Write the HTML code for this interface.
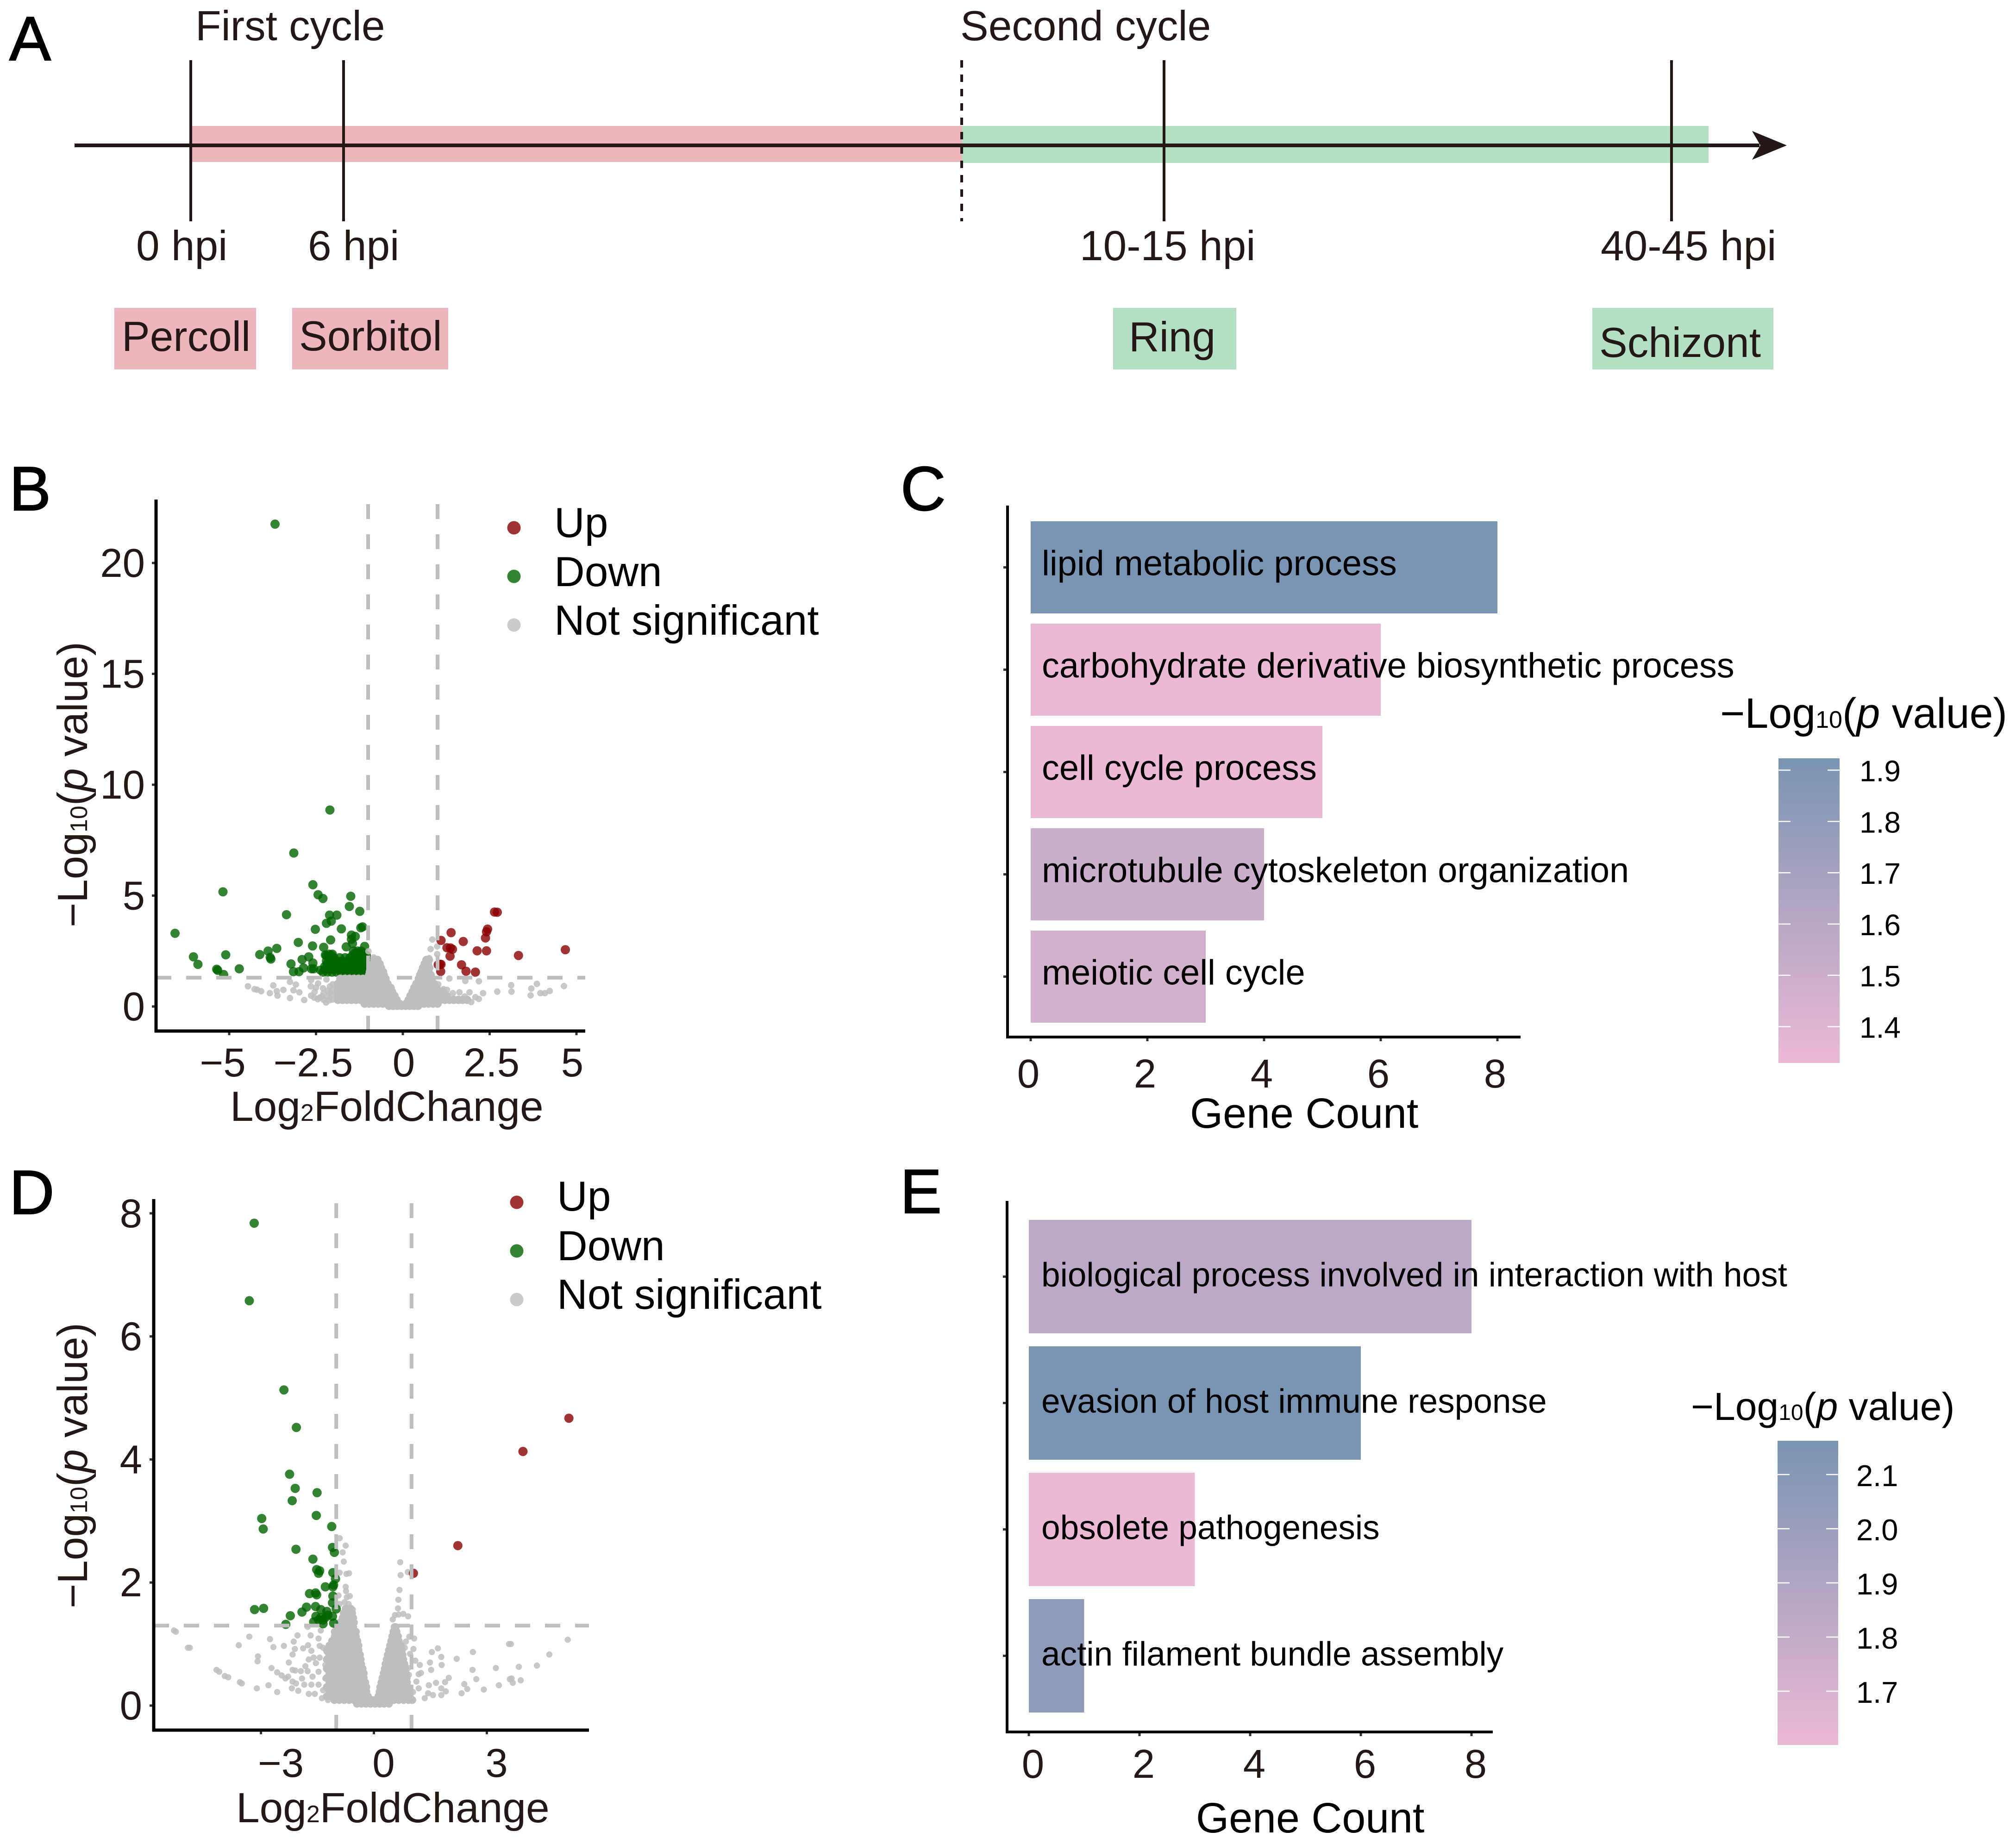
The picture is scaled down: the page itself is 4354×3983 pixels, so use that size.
<!DOCTYPE html>
<html lang="en">
<head>
<meta charset="utf-8">
<title>Timeline, volcano plots and GO enrichment bars</title>
<style>
html,body{margin:0;padding:0;background:#fff}
svg{display:block}
text{font-family:"Liberation Sans",Arial,sans-serif;fill:#231815}
.k{fill:#000}
.p{stroke:#000;stroke-width:2}
</style>
</head>
<body>
<svg id="fig" xmlns="http://www.w3.org/2000/svg" width="4354" height="3983" viewBox="0 0 4354 3983">
<defs>
<linearGradient id="cbGrad" x1="0" y1="0" x2="0" y2="1"><stop offset="0" stop-color="#7a94b3"/><stop offset="1" stop-color="#ecb9d5"/></linearGradient>
</defs>
<rect width="4354" height="3983" fill="#fff"/>

<!-- Panel A -->
<g>
<text class="k p" x="20" y="130" font-size="135">A</text>
<rect x="415" y="272" width="1663" height="78" fill="#edb6bd"/>
<rect x="2078" y="272" width="1612" height="80" fill="#b3dfc5"/>
<line x1="161" y1="314" x2="3800" y2="314" stroke="#231815" stroke-width="8"/>
<polygon points="3784,283 3859,314 3784,345 3802,314" fill="#231815"/>
<line x1="412" y1="130" x2="412" y2="478" stroke="#231815" stroke-width="6"/>
<line x1="742" y1="130" x2="742" y2="478" stroke="#231815" stroke-width="6"/>
<line x1="2077" y1="130" x2="2077" y2="478" stroke="#231815" stroke-width="6" stroke-dasharray="16 15"/>
<line x1="2514" y1="130" x2="2514" y2="478" stroke="#231815" stroke-width="6"/>
<line x1="3610" y1="130" x2="3610" y2="478" stroke="#231815" stroke-width="6"/>
<text x="422" y="87" font-size="91">First cycle</text>
<text x="2074" y="87" font-size="91">Second cycle</text>
<text x="294" y="562" font-size="91">0 hpi</text>
<text x="665" y="562" font-size="91">6 hpi</text>
<text x="2332" y="562" font-size="91">10-15 hpi</text>
<text x="3457" y="562" font-size="91">40-45 hpi</text>
<rect x="247" y="665" width="306" height="133" fill="#edb6bd"/>
<rect x="631" y="665" width="337" height="133" fill="#edb6bd"/>
<rect x="2404" y="665" width="266" height="133" fill="#b3dfc5"/>
<rect x="3439" y="665" width="391" height="133" fill="#b3dfc5"/>
<text x="263" y="758" font-size="91">Percoll</text>
<text x="646" y="757" font-size="91">Sorbitol</text>
<text x="2438" y="759" font-size="91">Ring</text>
<text x="3454" y="771" font-size="91">Schizont</text>
</g>

<!-- Panel letters -->
<text class="k p" x="20" y="1102" font-size="135">B</text>
<text class="k p" x="1945" y="1102" font-size="135">C</text>
<text class="k p" x="20" y="2622" font-size="135">D</text>
<text class="k p" x="1944" y="2620" font-size="135">E</text>

<!-- Panel B furniture -->
<g id="panelB"></g>
<line x1="337" y1="1079" x2="337" y2="2230" stroke="#000" stroke-width="7"/>
<line x1="334" y1="2227" x2="1264" y2="2227" stroke="#000" stroke-width="7"/>
<text x="497" y="2421" font-size="91">Log<tspan font-size="52">2</tspan>FoldChange</text>
<text transform="translate(188,2003) rotate(-90)" font-size="91">−Log<tspan font-size="52">10</tspan>(<tspan font-style="italic">p</tspan> value)</text>
<circle cx="1110" cy="1140" r="14.5" fill="#8b0000" fill-opacity=".8"/>
<circle cx="1110" cy="1245" r="14.5" fill="#006400" fill-opacity=".8"/>
<circle cx="1110" cy="1350" r="14.5" fill="#bebebe" fill-opacity=".8"/>
<text class="k" x="1197" y="1160" font-size="91">Up</text>
<text class="k" x="1197" y="1266" font-size="91">Down</text>
<text class="k" x="1197" y="1371" font-size="91">Not significant</text>

<!-- Panel D furniture -->
<g id="panelD"></g>
<line x1="332" y1="2590" x2="332" y2="3740" stroke="#000" stroke-width="7"/>
<line x1="329" y1="3737" x2="1272" y2="3737" stroke="#000" stroke-width="7"/>
<text x="510" y="3936" font-size="91">Log<tspan font-size="52">2</tspan>FoldChange</text>
<text transform="translate(188,3474) rotate(-90)" font-size="91">−Log<tspan font-size="52">10</tspan>(<tspan font-style="italic">p</tspan> value)</text>
<circle cx="1116" cy="2597" r="14.5" fill="#8b0000" fill-opacity=".8"/>
<circle cx="1116" cy="2702" r="14.5" fill="#006400" fill-opacity=".8"/>
<circle cx="1116" cy="2807" r="14.5" fill="#bebebe" fill-opacity=".8"/>
<text class="k" x="1203" y="2615" font-size="91">Up</text>
<text class="k" x="1203" y="2722" font-size="91">Down</text>
<text class="k" x="1203" y="2827" font-size="91">Not significant</text>

<!-- Panel C furniture -->
<g id="panelC"></g>
<line x1="2176" y1="1092" x2="2176" y2="2243" stroke="#000" stroke-width="6"/>
<line x1="2173" y1="2240" x2="3284" y2="2240" stroke="#000" stroke-width="6"/>
<text class="k" x="2570" y="2436" font-size="91.5">Gene Count</text>
<text class="k" x="3715" y="1572" font-size="91.5">−Log<tspan font-size="52">10</tspan>(<tspan font-style="italic">p</tspan> value)</text>
<rect x="3841" y="1638" width="132" height="658" fill="url(#cbGrad)"/>

<!-- Panel E furniture -->
<g id="panelE"></g>
<line x1="2175" y1="2594" x2="2175" y2="3744" stroke="#000" stroke-width="6"/>
<line x1="2172" y1="3741" x2="3224" y2="3741" stroke="#000" stroke-width="6"/>
<text class="k" x="2583" y="3958" font-size="91.5">Gene Count</text>
<text class="k" x="3652" y="3067" font-size="84">−Log<tspan font-size="48">10</tspan>(<tspan font-style="italic">p</tspan> value)</text>
<rect x="3839" y="3112" width="131" height="657" fill="url(#cbGrad)"/>
</svg>

<script>
/* ---------- Panel B data ---------- */
const bXTicks = [-5, -2.5, 0, 2.5, 5];
const bXTickLabels = ['−5', '−2.5', '0', '2.5', '5'];
const bYTicks = [0, 5, 10, 15, 20];
const bYTickLabels = ['0', '5', '10', '15', '20'];
const bFcCutoffs = [-1, 1];
const bPCutoff = 1.3;
const bUp = [[1.1,2.98],[1.39,3.33],[1.74,2.93],[1.27,2.65],[1.37,2.64],[1.43,2.58],[1.36,2.27],[1.1,1.9],[1.07,1.9],[1.02,1.88],[1.09,1.58],[1.69,1.88],[1.82,1.59],[2.09,1.55],[2.14,2.51],[2.41,2.51],[2.38,3.09],[2.41,3.37],[2.44,3.49],[2.64,4.26],[2.72,4.25],[3.33,2.3],[4.68,2.56]];
const bDown = [[-3.68,21.75],[-6.56,3.3],[-6.03,2.24],[-5.9,1.9],[-5.1,2.33],[-5.18,5.17],[-5.36,1.68],[-5.33,1.63],[-5.16,1.44],[-4.71,1.7],[-4.12,2.34],[-3.88,2.5],[-3.63,2.62],[-3.82,2.21],[-3.8,2.14],[-3.35,4.14],[-3.14,6.92],[-2.1,8.86],[-2.59,5.49],[-2.44,5.04],[-2.3,4.87],[-1.5,4.97],[-1.54,4.51],[-1.24,4.29],[-2.11,4.12],[-1.9,4.12],[-2.06,3.85],[-2.2,3.75],[-2.52,3.48],[-1.77,3.5],[-1.16,3.59],[-1.21,3.55],[-2.08,3.0],[-1.48,3.22],[-1.37,3.16],[-1.48,3.03],[-1.45,2.84],[-3.01,2.89],[-2.6,2.73],[-2.28,2.67],[-1.63,2.69],[-1.1,2.71],[-3.22,1.92],[-2.9,2.12],[-2.71,2.24],[-3.15,1.57],[-2.99,1.57],[-2.86,1.74],[-2.59,1.96],[-2.57,1.7],[-2.63,1.7],[-2.37,1.64],[-2.23,2.32],[-2.03,2.36],[-2.13,2.36],
[-2.3,1.55],[-2.17,1.55],[-2.04,1.55],[-1.91,1.55],[-1.78,1.55],[-1.65,1.55],[-1.52,1.55],[-1.39,1.55],[-1.26,1.55],[-1.13,1.55],[-1.03,1.55],
[-2.24,1.68],[-2.11,1.68],[-1.98,1.68],[-1.85,1.68],[-1.72,1.68],[-1.59,1.68],[-1.46,1.68],[-1.33,1.68],[-1.2,1.68],[-1.07,1.68],
[-2.25,1.8],[-2.1,1.8],[-1.95,1.8],[-1.8,1.8],[-1.65,1.8],[-1.5,1.8],[-1.35,1.8],[-1.2,1.8],[-1.05,1.8],
[-2.18,1.93],[-2.03,1.93],[-1.88,1.93],[-1.73,1.93],[-1.58,1.93],[-1.43,1.93],[-1.28,1.93],[-1.13,1.93],[-1.03,1.93],
[-2.2,2.05],[-2.05,2.05],[-1.9,2.05],[-1.75,2.05],[-1.6,2.05],[-1.45,2.05],[-1.3,2.05],[-1.15,2.05],[-1.03,2.05],
[-2.13,2.18],[-1.98,2.18],[-1.38,2.18],[-1.23,2.18],[-1.08,2.18],[-1.82,2.2],[-1.66,2.2],[-1.52,2.2],
[-2.2,2.3],[-2.05,2.3],[-1.45,2.3],[-1.3,2.3],[-1.15,2.3],[-1.05,2.3],[-1.38,2.4],[-1.25,2.4],[-1.12,2.4],[-1.42,2.5],[-1.3,2.5],[-1.2,2.5]];
const bGrayRows = [
[0.03,[-.4,-.28,-.16,-.04,.08,.2,.32,.44]],
[0.13,[-1.1,-.97,-.84,-.71,-.58,-.45,-.32,-.2,-.1,.1,.22,.35,.48,.61,.74,.87,1]],
[0.3,[-1.87,-1.74,-1.61,-1.48,-1.35,-1.22,-1.09,-.96,-.83,-.7,-.57,-.44,-.31,-.18,.17,.3,.43,.56,.69,.82,.95,1.08,1.21,1.34,1.47,1.6,1.72,1.85]],
[0.48,[-1.87,-1.74,-1.61,-1.48,-1.35,-1.22,-1.09,-.96,-.83,-.7,-.57,-.44,-.31,-.24,.22,.35,.48,.61,.74,.87,1,1.13,1.26]],
[0.66,[-1.87,-1.74,-1.61,-1.48,-1.35,-1.22,-1.09,-.96,-.83,-.7,-.57,-.44,-.31,.28,.41,.54,.67,.8,.93,1.05,1.15]],
[0.84,[-1.87,-1.74,-1.61,-1.48,-1.35,-1.22,-1.09,-.96,-.83,-.7,-.57,-.44,-.35,.33,.46,.59,.72,.85,.97]],
[1.02,[-1.87,-1.74,-1.61,-1.48,-1.35,-1.22,-1.09,-.96,-.83,-.7,-.57,-.44,.39,.52,.65,.78,.9]],
[1.25,[-1.8,-1.67,-1.54,-1.41,-1.28,-1.15,-1.02,-.89,-.76,-.63,-.5,.46,.58,.71,.83]],
[1.42,[-.97,-.84,-.71,-.55,.5,.6,.7,.8]],
[1.56,[-.95,-.82,-.69,-.57,.54,.64,.74]],
[1.74,[-.9,-.77,-.63,.58,.68,.76]],
[1.92,[-.85,-.73,-.67,.63,.72]],
[2.1,[-.82,-.73,.68,.75]]
];
const bGrayScatter = [[-4.46,.91],[-4.27,.78],[-4.2,.76],[-4.08,.69],[-3.83,.6],[-3.73,.95],[-3.63,.69],[-3.61,.49],[-3.44,.75],[-3.25,1.11],[-3.08,.99],[-3.15,.73],[-2.98,.64],[-3.25,.38],[-2.84,.29],[-2.64,1.19],[-2.65,.91],[-2.44,1.04],[-2.54,.66],[-2.64,.49],[-2.4,.4],[-2.21,.18],[-2.16,.71],[-2.2,1.22],[-2.03,.31],[-1.82,1.22],[-2.16,.45],[-2.33,.45],[-2.45,.33],[-2.28,.3],[-2.12,.28],[-2.05,.5],[-2.28,.6],[-2.08,.62],[-2.02,.78],[-2.3,.82],[-2.1,.9],[-2.02,1.0],[-2.55,.4],[-2.5,.85],[1.34,1.26],[1.8,1.15],[2.19,1.14],[1.02,1],[1.17,.78],[1.27,.75],[1.44,.6],[1.63,.64],[1.92,.64],[2.31,.6],[2.72,.67],[1.78,.45],[1.97,.2],[2.19,.34],[2.09,.42],[.85,3.02],[.8,2.59],[.99,2.71],[.99,2.36],[.76,2.18],[.66,2.03],[-.99,2.49],[-.84,2.21],[-.7,1.99],[3.12,.96],[3.13,.67],[3.7,.81],[3.86,1.02],[3.68,.5],[3.96,.6],[4.09,.6],[4.23,.7],[4.64,.92]];

/* ---------- Panel D data ---------- */
const dXTicks = [-3, 0, 3];
const dXTickLabels = ['−3', '0', '3'];
const dYTicks = [0, 2, 4, 6, 8];
const dYTickLabels = ['0', '2', '4', '6', '8'];
const dFcCutoffs = [-1, 1];
const dPCutoff = 1.3;
const dUp = [[5.18,4.67],[3.96,4.13],[2.23,2.6],[1.05,2.15]];
const dDown = [[-3.18,7.84],[-3.31,6.58],[-2.39,5.13],[-2.06,4.52],[-2.24,3.76],[-2.09,3.53],[-1.51,3.46],[-2.17,3.33],[-1.53,3.09],[-2.98,3.04],[-2.94,2.87],[-1.12,2.91],[-1.1,2.57],[-1.05,2.49],[-2.07,2.54],[-1.62,2.38],[-1.52,2.21],[-1.44,2.19],[-1.47,2.15],[-1.09,2.16],[-1.02,2.06],[-1.29,1.93],[-1.09,1.93],[-1.07,1.96],[-1.71,1.82],[-1.55,1.83],[-1.52,1.8],[-1.09,1.78],[-1.1,1.67],[-1,1.57],[-1.79,1.6],[-1.55,1.61],[-1.91,1.52],[-2.22,1.46],[-2.34,1.32],[-3.17,1.56],[-2.93,1.58],[-1.41,1.56],[-1.25,1.53],[-1.54,1.45],[-1.41,1.43],[-1.29,1.43],[-1.47,1.39],[-1.35,1.39],[-1.22,1.47],[-1.1,1.45],[-1.6,1.36],[-1.35,1.33],[-1.07,1.34]];
const dGrayRows = [
[0.03,[-.45,-.33,-.21,-.09,.03,.15,.27,.4]],
[0.09,[-1.05,-.92,-.79,-.66,-.53,-.4,-.27,-.14,-.05,.05,.14,.27,.4,.53,.66,.79,.92,1.02]],
[0.15,[-1.25,-1.11,-.97,-.83,-.69,-.55,-.41,-.27,-.16,.12,.26,.4,.54,.68,.82,.95]],
[0.225,[-1.18,-1.04,-.9,-.76,-.62,-.48,-.34,-.2,.15,.33,.47,.61,.75,.89]],
[0.3,[-1.25,-1.11,-.97,-.83,-.69,-.55,-.41,-.27,-.2,.17,.26,.4,.54,.68,.82,.9]],
[0.375,[-1.18,-1.04,-.9,-.76,-.62,-.48,-.34,-.23,.2,.33,.47,.61,.75,.88]],
[0.45,[-1.25,-1.11,-.97,-.83,-.69,-.55,-.41,-.27,.23,.31,.4,.54,.68,.82,.87]],
[0.525,[-1.18,-1.04,-.9,-.76,-.62,-.48,-.34,-.27,.26,.33,.47,.61,.75,.85]],
[0.6,[-1.25,-1.11,-.97,-.83,-.69,-.55,-.41,-.3,.29,.4,.54,.68,.83]],
[0.675,[-1.18,-1.04,-.9,-.76,-.62,-.48,-.34,.31,.47,.61,.75,.81]],
[0.75,[-1.25,-1.11,-.97,-.83,-.69,-.55,-.41,-.35,.34,.4,.54,.68,.78]],
[0.825,[-1.18,-1.04,-.9,-.76,-.62,-.48,-.37,.37,.47,.61,.76]],
[0.9,[-1.25,-1.11,-.97,-.83,-.69,-.55,-.41,.4,.54,.68,.74]],
[0.975,[-1.18,-1.04,-.9,-.76,-.62,-.48,-.41,.43,.47,.61,.72]],
[1.05,[-1.11,-.97,-.83,-.69,-.55,-.44,.46,.54,.66]],
[1.125,[-1.04,-.9,-.76,-.62,-.48,.49,.61,.64]],
[1.2,[-1.04,-.9,-.76,-.62,-.48,.52,.6]],
[1.275,[-.97,-.83,-.69,-.55,.55,.58]],
[1.35,[-.9,-.76,-.62,-.53]],
[1.425,[-.83,-.69,-.55]],
[1.5,[-.8,-.69,-.58]],
[1.575,[-.75,-.62]]
];
const dGrayScatter = [[.5,1.4],[.56,1.47],[.66,1.48],[.78,1.49],[.91,1.45],[.64,1.58],[.65,1.72],[.68,1.88],[.71,2.12],[.7,2.33],[.9,2.17],
[-.91,2.72],[-.75,2.6],[-.83,2.49],[-.8,2.34],[-.91,2.16],[-.73,2.14],[-.66,2.15],[-.75,1.93],[-.74,1.86],[-.64,1.78],[-.94,1.79],[-.72,1.76],[-.56,1.56],[-.67,1.65],[-.78,1.68],[-.91,1.65],
[-5.31,1.22],[-5.26,1.2],[-4.94,.94],[-4.89,.94],[-4.18,.58],[-4.11,.55],[-3.96,.48],[-3.87,.46],[-3.56,.38],[-3.51,.36],[-3.59,.98],[-3.31,1.12],[-3.11,.28],[-2.8,.33],[-2.57,.22],[-3.08,.8],[-3.09,.72],[-2.76,1.08],[-2.67,.95],[-2.72,.61],[-2.57,.54],[-2.45,.49],[-2.35,.44],[-2.28,.47],[-2.26,.7],[-2.39,.97],[-2.13,1.04],[-2.03,1.14],[-1.68,1.14],[-1.76,1.28],[-2.1,.92],[-2.16,.83],[-1.88,.93],[-1.75,.98],[-1.66,.89],[-1.47,1.09],[-1.41,1.22],[-1.44,.97],[-1.35,.94],[-2.16,.58],[-2.09,.57],[-1.94,.56],[-2.18,.28],[-2.01,.24],[-2.16,.39],[-2.07,.36],[-1.91,.44],[-1.82,.64],[-1.73,.75],[-1.6,.78],[-1.44,.78],[-1.76,.56],[-1.63,.47],[-1.47,.55],[-1.73,.19],[-1.57,.19],[-1.38,.12],[-1.22,.09],[-1.85,.34],[-1.66,.34],[-1.47,.34],[-1.29,.44],[-1.29,.66],[-1.35,.25],[-1.54,.69],[-1.25,.87],
[.94,1.12],[1.07,1.09],[.85,1.04],[.82,.94],[1.05,.92],[.96,.84],[1.1,.73],[1.22,.66],[.91,.61],[1.25,.53],[1.19,.51],[.93,.5],[1.13,.39],[1.19,.28],[1.04,.22],[1.54,.87],[1.7,.93],[1.79,.79],[2.2,.76],[2.63,.87],[1.49,.7],[1.8,.66],[1.52,.58],[1.99,.45],[2.62,.58],[2.72,.43],[3.24,.61],[3.59,1],[1.46,.33],[1.65,.37],[1.89,.38],[2.4,.35],[2.48,.27],[2.33,.2],[2.92,.26],[3.32,.33],[1.79,.28],[1.91,.23],[1.57,.17],[1.35,.12],[1.79,.17],[1.44,.2],[3.61,.43],[4.66,.83],[5.15,1.07],[4.33,.65],[3.85,.63],[3.64,1],[3.66,.44],[3.9,.41],[3.69,.37]];

/* ---------- Panel C data ---------- */
const cTerms = ['lipid metabolic process', 'carbohydrate derivative biosynthetic process', 'cell cycle process', 'microtubule cytoskeleton organization', 'meiotic cell cycle'];
const cCounts = [8, 6, 5, 4, 3];
const cPValues = [1.923, 1.33, 1.33, 1.5, 1.465];
const cXTicks = [0, 2, 4, 6, 8];
const cXTickLabels = ['0', '2', '4', '6', '8'];
const cLegendTicks = [1.9, 1.8, 1.7, 1.6, 1.5, 1.4];
const cLegendLabels = ['1.9', '1.8', '1.7', '1.6', '1.5', '1.4'];

/* ---------- Panel E data ---------- */
const eTerms = ['biological process involved in interaction with host', 'evasion of host immune response', 'obsolete pathogenesis', 'actin filament bundle assembly'];
const eCounts = [8, 6, 3, 1];
const ePValues = [1.836, 2.162, 1.6, 2.06];
const eXTicks = [0, 2, 4, 6, 8];
const eXTickLabels = ['0', '2', '4', '6', '8'];
const eLegendTicks = [2.1, 2.0, 1.9, 1.8, 1.7];
const eLegendLabels = ['2.1', '2.0', '1.9', '1.8', '1.7'];

/* ---------- Axis functions ---------- */
const SVGNS = 'http://www.w3.org/2000/svg';
const bX = v => 870 + 75 * v;
const bY = v => 2174 - 47.9 * v;
const dX = v => 807.5 + 81.3 * v;
const dY = v => 3684 - 132.9 * v;
const cX = v => 2226 + 126 * v;
const cBand = i => 1225.5 + 221 * i;
const eX = v => 2222 + 119.5 * v;
const eBand = i => 2757.5 + 273 * i;
const cLegendY = v => 1663.5 + (1.9 - v) * 1108;
const eLegendY = v => 3185 + (2.1 - v) * 1170;

function make(parent, tag, attrs, content) {
  const el = document.createElementNS(SVGNS, tag);
  for (const k in attrs) el.setAttribute(k, attrs[k]);
  if (content !== undefined) el.textContent = content;
  parent.appendChild(el);
  return el;
}
function mixColor(t) {
  const lo = [236, 185, 213], hi = [122, 148, 179];
  const c = lo.map((l, i) => Math.round(l + (hi[i] - l) * t));
  return 'rgb(' + c.join(',') + ')';
}

function drawGray(g, rows, scatter, x, y, rowR, r) {
  rows.forEach(row => row[1].forEach(px => {
    const c = make(g, 'circle', {cx: x(px), cy: y(row[0]), r: rowR, fill: '#bebebe'});
    
    
  }));
  scatter.forEach(p => {
    const c = make(g, 'circle', {cx: x(p[0]), cy: y(p[1]), r: r, fill: '#bebebe', 'fill-opacity': .85});
    
    
  });
}
function drawUp(g, pts, x, y) {
  pts.forEach(p => {
    const c = make(g, 'circle', {cx: x(p[0]), cy: y(p[1]), r: 10, fill: '#8b0000', 'fill-opacity': .8});
    
    
  });
}
function drawDown(g, pts, x, y) {
  pts.forEach(p => {
    const c = make(g, 'circle', {cx: x(p[0]), cy: y(p[1]), r: 10, fill: '#006400', 'fill-opacity': .8});
    
    
  });
}
function drawCutoffs(g, fc, p, x, y, top, bottom, left, right) {
  fc.forEach(v => {
    const l = make(g, 'line', {x1: x(v), x2: x(v), y1: top, y2: bottom, stroke: '#bebebe', 'stroke-width': 8, 'stroke-dasharray': '32 33'});
    
    
  });
  const h = make(g, 'line', {x1: left, x2: right, y1: y(p), y2: y(p), stroke: '#bebebe', 'stroke-width': 8, 'stroke-dasharray': '33 32'});
  
  
}
function drawXTicks(g, ticks, labels, x, axisY, baseline, nudge, size) {
  ticks.forEach((v, i) => {
    const t = make(g, 'rect', {x: x(v) - 2.5, y: axisY, width: 5, height: 9, fill: '#333'});
    
    
    const l = make(g, 'text', {x: x(v) + nudge[i], y: baseline, 'font-size': size, 'text-anchor': 'middle'}, labels[i]);
    
    
  });
}
function drawYTicks(g, ticks, labels, y, axisX, labelX) {
  ticks.forEach((v, i) => {
    const t = make(g, 'rect', {x: axisX - 9, y: y(v) - 2.5, width: 9, height: 5, fill: '#333'});
    
    
    const l = make(g, 'text', {x: labelX, y: y(v) + 30, 'font-size': 87, 'text-anchor': 'end'}, labels[i]);
    
    
  });
}
function drawBars(g, terms, counts, ps, pMin, pMax, x, band, h, axisX, labelOffset, labelSize, labelX) {
  terms.forEach((term, i) => {
    const b = make(g, 'rect', {x: x(0), y: band(i) - h / 2, width: x(counts[i]) - x(0), height: h, fill: mixColor((ps[i] - pMin) / (pMax - pMin))});
    
    
    const t = make(g, 'rect', {x: axisX - 9, y: band(i) - 2.5, width: 9, height: 5, fill: '#333'});
    
    
  });
  terms.forEach((term, i) => {
    const l = make(g, 'text', {x: labelX, y: band(i) + labelOffset, 'font-size': labelSize, style: 'fill:#000'}, term);
    
    
  });
}
function drawLegendTicks(ticks, labels, y, x0, x1, labelX, size, baseOffset) {
  const svg = document.getElementById('fig');
  ticks.forEach((v, i) => {
    const a = make(svg, 'line', {x1: x0, x2: x0 + 26, y1: y(v), y2: y(v), stroke: '#fff', 'stroke-width': 2.5});
    
    
    const b = make(svg, 'line', {x1: x1 - 26, x2: x1, y1: y(v), y2: y(v), stroke: '#fff', 'stroke-width': 2.5});
    
    
    const l = make(svg, 'text', {x: labelX, y: y(v) + baseOffset, 'font-size': size, style: 'fill:#000'}, labels[i]);
    
    
  });
}

/* ---------- Render ---------- */
const gB = document.getElementById('panelB');
drawDown(gB, bDown, bX, bY);
drawGray(gB, bGrayRows, bGrayScatter, bX, bY, 9, 7);
drawUp(gB, bUp, bX, bY);
drawCutoffs(gB, bFcCutoffs, bPCutoff, bX, bY, 1089, 2226, 337, 1264);
drawXTicks(gB, bXTicks, bXTickLabels, bX, 2227, 2325, [-14, -6, 2, 4, -9], 87);
drawYTicks(gB, bYTicks, bYTickLabels, bY, 337, 313);

const gD = document.getElementById('panelD');
drawGray(gD, dGrayRows, dGrayScatter, dX, dY, 8.5, 6.7);
drawDown(gD, dDown, dX, dY);
drawUp(gD, dUp, dX, dY);
drawCutoffs(gD, dFcCutoffs, dPCutoff, dX, dY, 2599, 3736, 332, 1272);
drawXTicks(gD, dXTicks, dXTickLabels, dX, 3737, 3838, [43, 21, 21], 87);
drawYTicks(gD, dYTicks, dYTickLabels, dY, 332, 307);

const gC = document.getElementById('panelC');
drawBars(gC, cTerms, cCounts, cPValues, 1.33, 1.923, cX, cBand, 199, 2176, 17, 75.8, 2250);
drawXTicks(gC, cXTicks, cXTickLabels, cX, 2240, 2349, [-5, -5, -5, -5, -5], 87);
drawLegendTicks(cLegendTicks, cLegendLabels, cLegendY, 3841, 3973, 4016, 64, 24);

const gE = document.getElementById('panelE');
drawBars(gE, eTerms, eCounts, ePValues, 1.6, 2.162, eX, eBand, 245, 2175, 21, 73, 2249);
drawXTicks(gE, eXTicks, eXTickLabels, eX, 3741, 3840, [9, 9, 9, 9, 9], 87);
drawLegendTicks(eLegendTicks, eLegendLabels, eLegendY, 3839, 3970, 4009, 65, 25);
</script>
</body>
</html>
